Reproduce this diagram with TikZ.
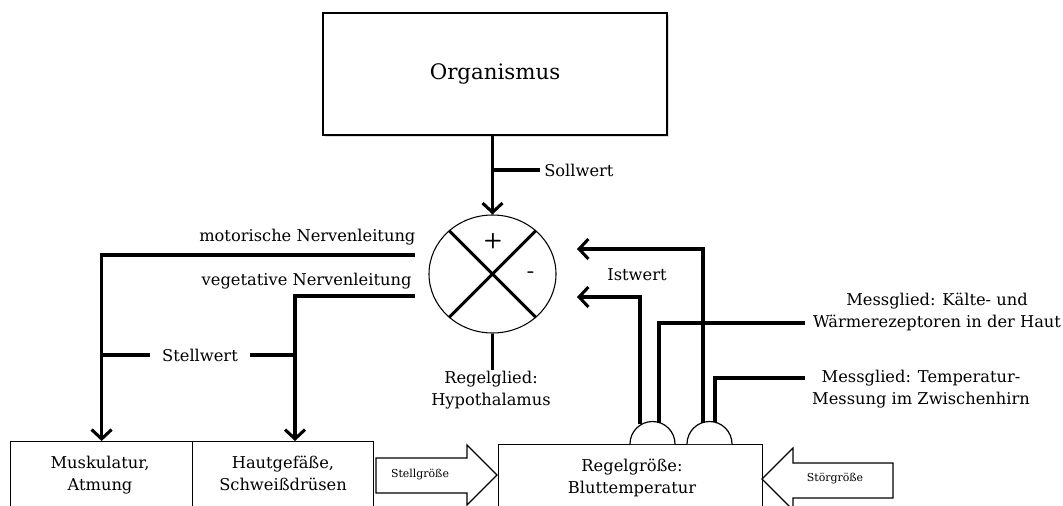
\documentclass[tikz,border=0pt]{standalone}
\usepackage{fontspec}
\setmainfont{DejaVu Serif}
\usetikzlibrary{arrows.meta,shapes.geometric,shadows}

\begin{document}
\begin{tikzpicture}[x=0.75pt,y=-0.75pt,
    conn/.style={line width=2.3pt},
    arr/.style={conn,-{Straight Barb[length=7pt,width=15pt]}},
    box/.style={draw,line width=0.9pt,fill=white},
    lbl/.style={font=\fontsize{12.2}{16.5}\selectfont,align=center,inner sep=1pt},
    tiny/.style={font=\fontsize{8.2}{9}\selectfont,inner sep=1pt},
    sign/.style={font=\sffamily\bfseries\fontsize{16}{18}\selectfont},
    blockarr/.style={draw,line width=0.9pt,fill=white}]

\useasboundingbox (0,0) rectangle (1063,506);
\clip (0,0) rectangle (1063,506);

% Organismus und Vergleicher
\node[box,drop shadow={opacity=0.25,shadow xshift=1.2pt,shadow yshift=-1.2pt},
      minimum width=258pt,minimum height=91.5pt,
      font=\fontsize{16}{18}\selectfont] (org) at (495,74) {Organismus};
\node[ellipse,draw,line width=0.8pt,minimum width=95.25pt,minimum height=88.5pt] (cmp) at (492.5,274) {};
\draw[conn] (cmp.135) -- (cmp.-45);
\draw[conn] (cmp.45) -- (cmp.-135);
\node[sign] (plus) at (493,241) {+};
\node[sign] (minus) at (531,275) {-};

\draw[arr] (org.south -| cmp.north) -- (cmp.north);
\node[lbl,anchor=west,inner xsep=3pt] (sw) at (540,170) {Sollwert};
\draw[conn] (sw.west) -- (sw.west -| cmp.north);

\node[lbl,anchor=north] (rgl) at (491,370) {Regelglied:\\Hypothalamus};
\draw[conn] (cmp.south) -- (cmp.south |- rgl.north);

% Stellglieder
\node[box,anchor=north west,minimum width=136.5pt,minimum height=75pt] (musk) at (10,441) {};
\node[box,anchor=north west,minimum width=135.75pt,minimum height=75pt] (haut) at (192,441) {};
\node[lbl] (musktxt) at (100,475) {Muskulatur,\\Atmung};
\node[lbl] (hauttxt) at (283,473) {Hautgefäße,\\Schweißdrüsen};

\coordinate (mot) at (415,255);
\coordinate (veg) at (415,296);
\coordinate (vegdown) at (295,441);
\draw[arr] (mot) -| (musk.north);
\draw[arr] (veg) -| (vegdown);
\node[lbl,anchor=south east] (motl) at (417,247) {motorische Nervenleitung};
\node[lbl,anchor=south east] (vegl) at (413,291) {vegetative Nervenleitung};

\node[lbl,inner xsep=9pt] (stw) at (200,355) {Stellwert};
\draw[conn] (stw.west) -- (stw.west -| musk.north);
\draw[conn] (stw.east) -- (stw.east -| vegdown);

% Stellgroesse
\draw[blockarr] (376,458) -- (467,458) -- (467,445) -- (497,475) -- (467,505)
    -- (467,493) -- (376,493) -- cycle;
\node[tiny] (stg) at (420,475) {Stellgröße};

% Regelstrecke
\node[box,anchor=north west,minimum width=198pt,minimum height=75pt] (regel) at (498,444) {};
\node[lbl] (regeltxt) at (632,478) {Regelgröße:\\Bluttemperatur};

\draw[line width=0.9pt,fill=white] (630,444) arc (180:360:22.5);
\draw[line width=0.9pt,fill=white] (687,444) arc (180:360:22.5);
\coordinate (s1a) at (640,424);
\coordinate (s1b) at (659,422.5);
\coordinate (s2a) at (703,422.5);
\coordinate (s2b) at (715,422);

% Istwert
\coordinate (ist1) at (577,297);
\coordinate (ist2) at (577,249);
\draw[arr] (s1a) |- (ist1);
\draw[arr] (s2a) |- (ist2);
\node[lbl] (istl) at (637,275) {Istwert};

% Messglieder
\coordinate (k1) at (805,323);
\coordinate (k2) at (805,378);
\draw[conn] (s1b) |- (k1);
\draw[conn] (s2b) |- (k2);
\node[lbl] (mess1) at (937,312) {Messglied: Kälte- und\\Wärmerezeptoren in der Haut};
\node[lbl] (mess2) at (921,389) {Messglied: Temperatur-\\Messung im Zwischenhirn};

% Stoergroesse
\draw[blockarr] (893,463) -- (793,463) -- (793,448) -- (762,479) -- (793,510)
    -- (793,498) -- (893,498) -- cycle;
\node[tiny] (stoer) at (835,479) {Störgröße};

\end{tikzpicture}
\end{document}
